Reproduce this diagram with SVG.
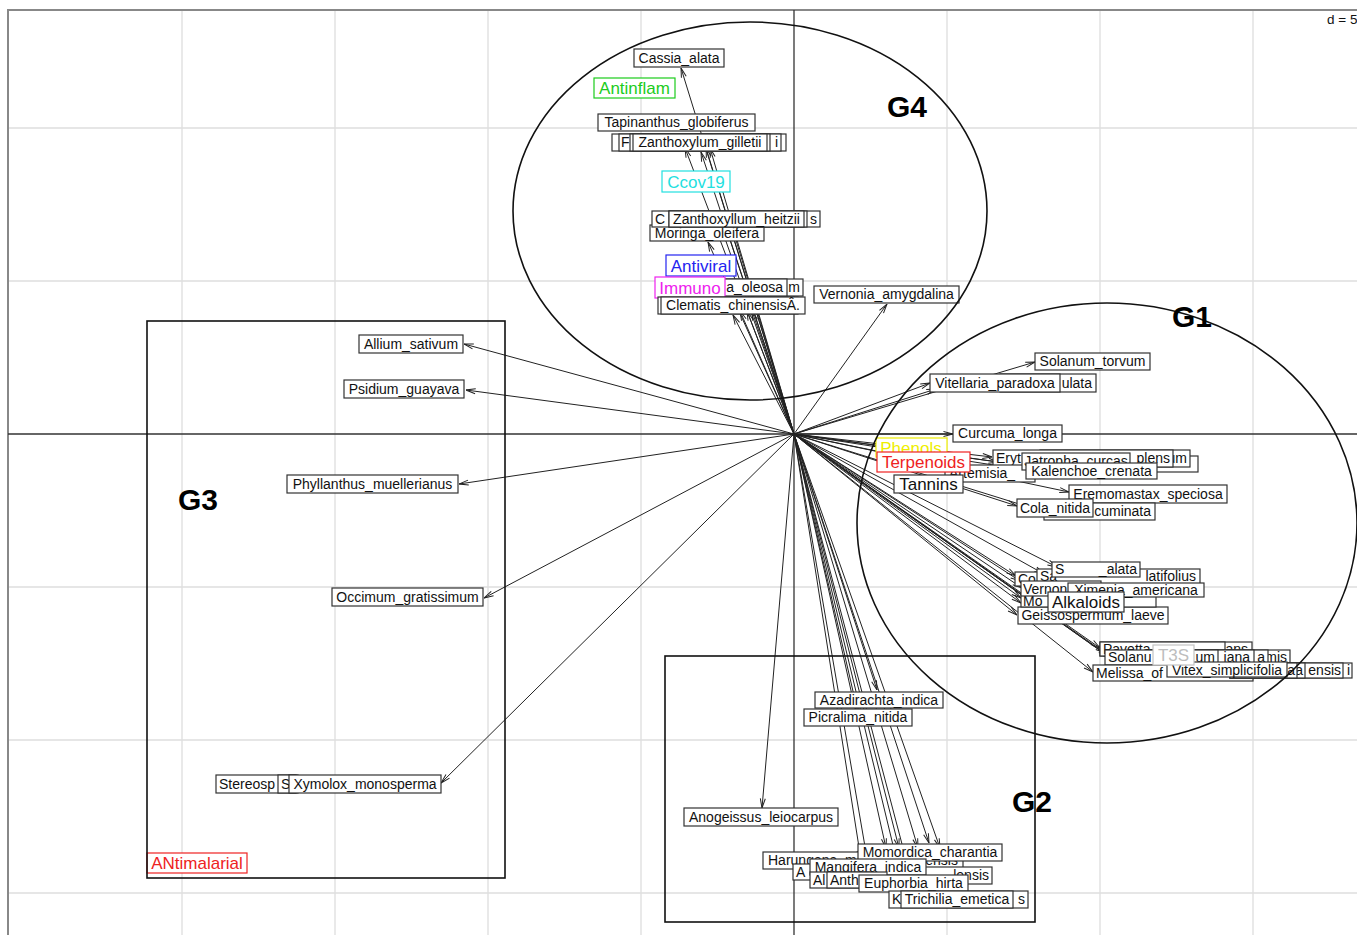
<svg xmlns="http://www.w3.org/2000/svg" width="1357" height="935" viewBox="0 0 1357 935">
<defs>
<marker id="ah" markerUnits="userSpaceOnUse" markerWidth="10" markerHeight="10" viewBox="0 0 10 10" refX="10" refY="5" orient="auto"><path d="M0.5,2.5 L10,5 L0.5,7.5" fill="none" stroke="#222" stroke-width="1"/></marker>
<style>
.grid line{stroke:#dedede;stroke-width:1.3}
.axis line{stroke:#333;stroke-width:1.3}
.arr line{stroke:#222;stroke-width:1;marker-end:url(#ah)}
.lb rect{fill:#fff;stroke:#333;stroke-width:1.2}
text{font-family:"Liberation Sans",Arial,sans-serif}
.lb text{font-size:14px;fill:#111}
.c text{font-size:17px}
.m{text-anchor:middle}
.e{text-anchor:end}
.grp{fill:none;stroke:#111;stroke-width:1.6}
.gt{font-size:30px;font-weight:bold;fill:#000;text-anchor:middle}
</style>
</defs>
<rect width="1357" height="935" fill="#fff"/>
<g class="grid">
<line x1="182" y1="10" x2="182" y2="935"/><line x1="335" y1="10" x2="335" y2="935"/><line x1="488" y1="10" x2="488" y2="935"/><line x1="641" y1="10" x2="641" y2="935"/><line x1="947" y1="10" x2="947" y2="935"/><line x1="1100" y1="10" x2="1100" y2="935"/><line x1="1253" y1="10" x2="1253" y2="935"/>
<line x1="8" y1="128" x2="1357" y2="128"/><line x1="8" y1="281" x2="1357" y2="281"/><line x1="8" y1="587" x2="1357" y2="587"/><line x1="8" y1="740" x2="1357" y2="740"/><line x1="8" y1="893" x2="1357" y2="893"/>
</g>
<rect x="8" y="10" width="1360" height="940" fill="none" stroke="#888" stroke-width="2"/>
<g class="axis"><line x1="794" y1="10" x2="794" y2="935"/><line x1="8" y1="434" x2="1357" y2="434"/></g>
<text x="1327" y="24" font-size="13.5" fill="#111">d = 5</text>

<g id="connectors" class="arr">
<line x1="794" y1="434" x2="681" y2="68"/>
<line x1="794" y1="434" x2="685" y2="148"/>
<line x1="794" y1="434" x2="701" y2="152"/>
<line x1="794" y1="434" x2="706" y2="148"/>
<line x1="794" y1="434" x2="710" y2="148"/>
<line x1="794" y1="434" x2="708" y2="242"/>
<line x1="794" y1="434" x2="722" y2="230"/>
<line x1="794" y1="434" x2="727" y2="230"/>
<line x1="794" y1="434" x2="733" y2="230"/>
<line x1="794" y1="434" x2="733" y2="315"/>
<line x1="794" y1="434" x2="740" y2="311"/>
<line x1="794" y1="434" x2="747" y2="311"/>
<line x1="794" y1="434" x2="752" y2="311"/>
<line x1="794" y1="434" x2="887" y2="304"/>
<line x1="794" y1="434" x2="464" y2="344"/>
<line x1="794" y1="434" x2="466" y2="390"/>
<line x1="794" y1="434" x2="459" y2="484"/>
<line x1="794" y1="434" x2="484" y2="598"/>
<line x1="794" y1="434" x2="441" y2="783"/>
<line x1="794" y1="434" x2="762" y2="808"/>
<line x1="794" y1="434" x2="877" y2="690"/>
<line x1="794" y1="434" x2="858" y2="713"/>
<line x1="794" y1="434" x2="861" y2="860"/>
<line x1="794" y1="434" x2="868" y2="864"/>
<line x1="794" y1="434" x2="886" y2="848"/>
<line x1="794" y1="434" x2="899" y2="848"/>
<line x1="794" y1="434" x2="918" y2="848"/>
<line x1="794" y1="434" x2="929" y2="843"/>
<line x1="794" y1="434" x2="940" y2="848"/>
<line x1="794" y1="434" x2="905" y2="895"/>
<line x1="794" y1="434" x2="912" y2="882"/>
<line x1="794" y1="434" x2="1035" y2="362"/>
<line x1="794" y1="434" x2="930" y2="383"/>
<line x1="794" y1="434" x2="936" y2="389"/>
<line x1="794" y1="434" x2="953" y2="434"/>
<line x1="794" y1="434" x2="992" y2="457"/>
<line x1="794" y1="434" x2="998" y2="462"/>
<line x1="794" y1="434" x2="978" y2="472"/>
<line x1="794" y1="434" x2="1028" y2="466"/>
<line x1="794" y1="434" x2="1032" y2="471"/>
<line x1="794" y1="434" x2="1069" y2="492"/>
<line x1="794" y1="434" x2="1017" y2="506"/>
<line x1="794" y1="434" x2="1048" y2="513"/>
<line x1="794" y1="434" x2="1016" y2="576"/>
<line x1="794" y1="434" x2="1020" y2="581"/>
<line x1="794" y1="434" x2="1022" y2="588"/>
<line x1="794" y1="434" x2="1021" y2="598"/>
<line x1="794" y1="434" x2="1021" y2="603"/>
<line x1="794" y1="434" x2="1017" y2="615"/>
<line x1="794" y1="434" x2="1044" y2="574"/>
<line x1="794" y1="434" x2="1057" y2="567"/>
<line x1="794" y1="434" x2="1100" y2="648"/>
<line x1="794" y1="434" x2="1105" y2="653"/>
<line x1="794" y1="434" x2="1108" y2="656"/>
<line x1="794" y1="434" x2="1112" y2="659"/>
<line x1="794" y1="434" x2="1093" y2="672"/>
</g>

<g id="labels" class="lb">
<g id="n-cassia"><rect x="634" y="49" width="90" height="18"/><text class="m" x="679" y="63">Cassia_alata</text></g>
<g id="n-antinflam" class="c"><rect x="594" y="78" width="81" height="20" style="stroke:#1ccc1c"/><text class="m" x="634.5" y="94" style="fill:#1ccc1c">Antinflam</text></g>
<g id="n-tapinanthus"><rect x="598" y="114" width="157" height="17"/><text class="m" x="676.5" y="127">Tapinanthus_globiferus</text></g>
<g id="n-zgilletii">
<rect x="612" y="134" width="174" height="17"/>
<rect x="619" y="134" width="162" height="17"/><text x="621" y="147">F</text><text class="e" x="778" y="147">i</text>
<rect x="630" y="134" width="140" height="17"/>
<rect x="633" y="134" width="134" height="17"/><text class="m" x="700" y="147">Zanthoxylum_gilletii</text>
</g>
<g id="n-ccov19" class="c"><rect x="662" y="171" width="68" height="21" style="stroke:#22e0e0"/><text class="m" x="696" y="188" style="fill:#22e0e0">Ccov19</text></g>
<g id="n-moringa"><rect x="650" y="225" width="114" height="16"/><text class="m" x="707" y="238">Moringa_oleifera</text></g>
<g id="n-heitzii">
<rect x="652" y="211" width="168" height="16"/><text x="655" y="224">C</text><text class="e" x="817" y="224">s</text>
<rect x="669" y="211" width="138" height="16"/>
<rect x="669" y="211" width="135" height="16"/><text class="m" x="736.5" y="224">Zanthoxyllum_heitzii</text>
</g>
<g id="n-antiviral" class="c"><rect x="666" y="255" width="70" height="21" style="stroke:#2424f0"/><text class="m" x="701" y="272" style="fill:#2424f0">Antiviral</text></g>
<g id="n-oleosa">
<rect x="690" y="279" width="113" height="17"/><text class="e" x="800" y="292">m</text>
<rect x="690" y="279" width="97" height="17"/><text class="e" x="783" y="292">a_oleosa</text>
</g>
<g id="n-immuno" class="c"><rect x="655" y="277" width="70" height="21" style="stroke:#ee22ee"/><text class="m" x="690" y="294" style="fill:#ee22ee">Immuno</text></g>
<g id="n-clematis"><rect x="658" y="297" width="140" height="17"/><rect x="661" y="297" width="144" height="17"/><text class="m" x="733" y="310">Clematis_chinensisÂ.</text></g>
<g id="n-vernonia-amyg"><rect x="814" y="286" width="145" height="17"/><text class="m" x="886.5" y="299">Vernonia_amygdalina</text></g>

<g id="n-allium"><rect x="359" y="335" width="104" height="18"/><text class="m" x="411" y="349">Allium_sativum</text></g>
<g id="n-psidium"><rect x="344" y="380" width="120" height="18"/><text class="m" x="404" y="394">Psidium_guayava</text></g>
<g id="n-phyllanthus"><rect x="287" y="475" width="171" height="18"/><text class="m" x="372.5" y="489">Phyllanthus_muellerianus</text></g>
<g id="n-occimum"><rect x="332" y="588" width="151" height="18"/><text class="m" x="407.5" y="602">Occimum_gratissimum</text></g>
<g id="n-stereo"><rect x="216" y="775" width="80" height="18"/><text x="219" y="789">Stereosp</text></g>
<g id="n-s"><rect x="278" y="775" width="20" height="18"/><text x="281" y="789">S</text></g>
<g id="n-xymolox"><rect x="289" y="775" width="152" height="18"/><text class="m" x="365" y="789">Xymolox_monosperma</text></g>
<g id="n-antimalarial" class="c"><rect x="147" y="853" width="100" height="20" style="stroke:#ee2222"/><text class="m" x="197" y="869" style="fill:#ee2222">ANtimalarial</text></g>

<g id="n-anogeissus"><rect x="684" y="808" width="154" height="18"/><text class="m" x="761" y="822">Anogeissus_leiocarpus</text></g>
<g id="n-azadirachta"><rect x="815" y="692" width="128" height="16"/><text class="m" x="879" y="705">Azadirachta_indica</text></g>
<g id="n-picralima"><rect x="804" y="709" width="108" height="17"/><text class="m" x="858" y="722">Picralima_nitida</text></g>
<g id="n-harungana"><rect x="763" y="852" width="200" height="17"/><text x="768" y="865">Harungana_madagascariensis</text></g>
<g id="n-a"><rect x="793" y="864" width="60" height="16"/><text x="796" y="877">A</text></g>
<g id="n-momordica"><rect x="858" y="844" width="144" height="17"/><text class="m" x="930" y="857">Momordica_charantia</text></g>
<g id="n-lensis"><rect x="923" y="867" width="69" height="17"/><text class="e" x="989" y="880">lensis</text></g>
<g id="n-mangifera"><rect x="810" y="859" width="116" height="16"/><text class="m" x="868" y="872">Mangifera_indica</text></g>
<g id="n-al"><rect x="810" y="872" width="60" height="16"/><text x="813" y="885">Al</text></g>
<g id="n-anth"><rect x="827" y="872" width="60" height="16"/><text x="830" y="885">Anth</text></g>
<g id="n-euphorbia"><rect x="859" y="875" width="109" height="17"/><text class="m" x="913.5" y="888">Euphorbia_hirta</text></g>
<g id="n-k"><rect x="889" y="891" width="139" height="17"/><text x="892" y="904">K</text><text class="e" x="1025" y="904">s</text></g>
<g id="n-trichilia"><rect x="901" y="891" width="112" height="17"/><text class="m" x="957" y="904">Trichilia_emetica</text></g>

<g id="n-solanum-torvum"><rect x="1035" y="353" width="115" height="17"/><text class="m" x="1092.5" y="366">Solanum_torvum</text></g>
<g id="n-ulata"><rect x="1000" y="374" width="96" height="18"/><text class="e" x="1092" y="388">ulata</text></g>
<g id="n-vitellaria"><rect x="930" y="374" width="130" height="18"/><text class="m" x="995" y="388">Vitellaria_paradoxa</text></g>
<g id="n-curcuma"><rect x="953" y="425" width="109" height="17"/><text class="m" x="1007.5" y="438">Curcuma_longa</text></g>
<g id="n-eryt">
<rect x="1040" y="456" width="158" height="16"/>
<rect x="1040" y="450" width="150" height="17"/><text class="e" x="1187" y="463">um</text>
<rect x="993" y="450" width="180" height="17"/><text x="996" y="463">Eryt</text><text class="e" x="1170" y="463">plens</text>
</g>
<g id="n-artemisia"><rect x="945" y="465" width="90" height="17"/><text x="949" y="478">Artemisia_</text></g>
<g id="n-jatropha"><rect x="1022" y="453" width="108" height="17"/><text class="m" x="1076" y="466">Jatropha_curcas</text></g>
<g id="n-kalenchoe"><rect x="1026" y="463" width="131" height="16"/><text class="m" x="1091.5" y="476">Kalenchoe_crenata</text></g>
<g id="n-eremomastax"><rect x="1069" y="485" width="158" height="18"/><text class="m" x="1148" y="499">Eremomastax_speciosa</text></g>
<g id="n-cuminata"><rect x="1044" y="503" width="111" height="17"/><text class="e" x="1151" y="516">cuminata</text></g>
<g id="n-cola-nitida"><rect x="1017" y="499" width="76" height="18"/><text class="m" x="1055" y="513">Cola_nitida</text></g>

<g id="n-co"><rect x="1015" y="572" width="60" height="14"/><text x="1018" y="584">Co</text></g>
<g id="n-sarco"><rect x="1037" y="569" width="163" height="15"/><text x="1040" y="581">Sa</text><text class="e" x="1196" y="581">latifolius</text></g>
<g id="n-senna"><rect x="1052" y="562" width="88" height="15"/><text x="1055" y="574">S</text><text class="e" x="1137" y="574">_alata</text></g>
<g id="n-geisso"><rect x="1018" y="607" width="150" height="17"/><text class="m" x="1093" y="620">Geissospermum_laeve</text></g>
<g id="n-mo"><rect x="1021" y="594" width="135" height="13"/><text x="1023" y="606">Mo</text></g>
<g id="n-vernon"><rect x="1021" y="581" width="80" height="15"/><text x="1023" y="594">Vernon</text></g>
<g id="n-ximenia"><rect x="1068" y="583" width="136" height="14"/><text class="m" x="1136" y="595">Ximenia_americana</text></g>
<g id="n-alkaloids" class="c"><rect x="1048" y="592" width="76" height="20"/><text class="m" x="1086" y="608">Alkaloids</text></g>

<g id="n-pavetta"><rect x="1100" y="642" width="152" height="14"/><text class="e" x="1248" y="654">ans</text><rect x="1100" y="642" width="125" height="14"/><text x="1103" y="654">Pavetta_</text></g>
<g id="n-mis"><rect x="1150" y="650" width="140" height="15"/><text class="e" x="1287" y="662">mis</text><rect x="1150" y="650" width="118" height="15"/><text class="e" x="1265" y="662">a</text><rect x="1150" y="650" width="104" height="15"/><text class="e" x="1250" y="662">iana</text></g>
<g id="n-solanu"><rect x="1105" y="650" width="113" height="15"/><text x="1108" y="662">Solanu</text><text class="e" x="1215" y="662">um</text></g>
<g id="n-melissa"><rect x="1093" y="665" width="160" height="16"/><text x="1096" y="678">Melissa_of</text></g>
<g id="n-ends"><rect x="1230" y="663" width="122" height="15"/><text class="e" x="1350" y="675">i</text><rect x="1230" y="663" width="113" height="15"/><text class="e" x="1341" y="675">ensis</text><rect x="1230" y="663" width="75" height="15"/><text class="e" x="1303" y="675">a</text><rect x="1230" y="663" width="67" height="15"/><text class="e" x="1295" y="675">a</text></g>
<g id="n-vitex"><rect x="1167" y="662" width="120" height="15"/><text class="m" x="1227" y="675">Vitex_simplicifolia</text></g>
<g id="n-t3s" class="c"><rect x="1153" y="645" width="41" height="20" style="stroke:#c4c4c4"/><text class="m" x="1173.5" y="661" style="fill:#bdbdbd">T3S</text></g>

<g id="n-phenols" class="c"><rect x="876" y="438" width="71" height="19" style="stroke:#eeee00"/><text class="m" x="911" y="454" style="fill:#eeee00">Phenols</text></g>
<g id="n-terpenoids" class="c"><rect x="877" y="452" width="93" height="20" style="stroke:#ee2222"/><text class="m" x="923.5" y="468" style="fill:#ee2222">Terpenoids</text></g>
<g id="n-tannins" class="c"><rect x="894" y="475" width="69" height="18"/><text class="m" x="928.5" y="490">Tannins</text></g>
</g>

<g id="groups">
<ellipse class="grp" cx="750" cy="211" rx="237" ry="189"/>
<ellipse class="grp" cx="1107" cy="523" rx="250" ry="220"/>
<rect class="grp" x="147" y="321" width="358" height="557"/>
<rect class="grp" x="665" y="656" width="370" height="266"/>
<text class="gt" x="907" y="117">G4</text>
<text class="gt" x="1192" y="327">G1</text>
<text class="gt" x="198" y="510">G3</text>
<text class="gt" x="1032" y="812">G2</text>
</g>
</svg>
